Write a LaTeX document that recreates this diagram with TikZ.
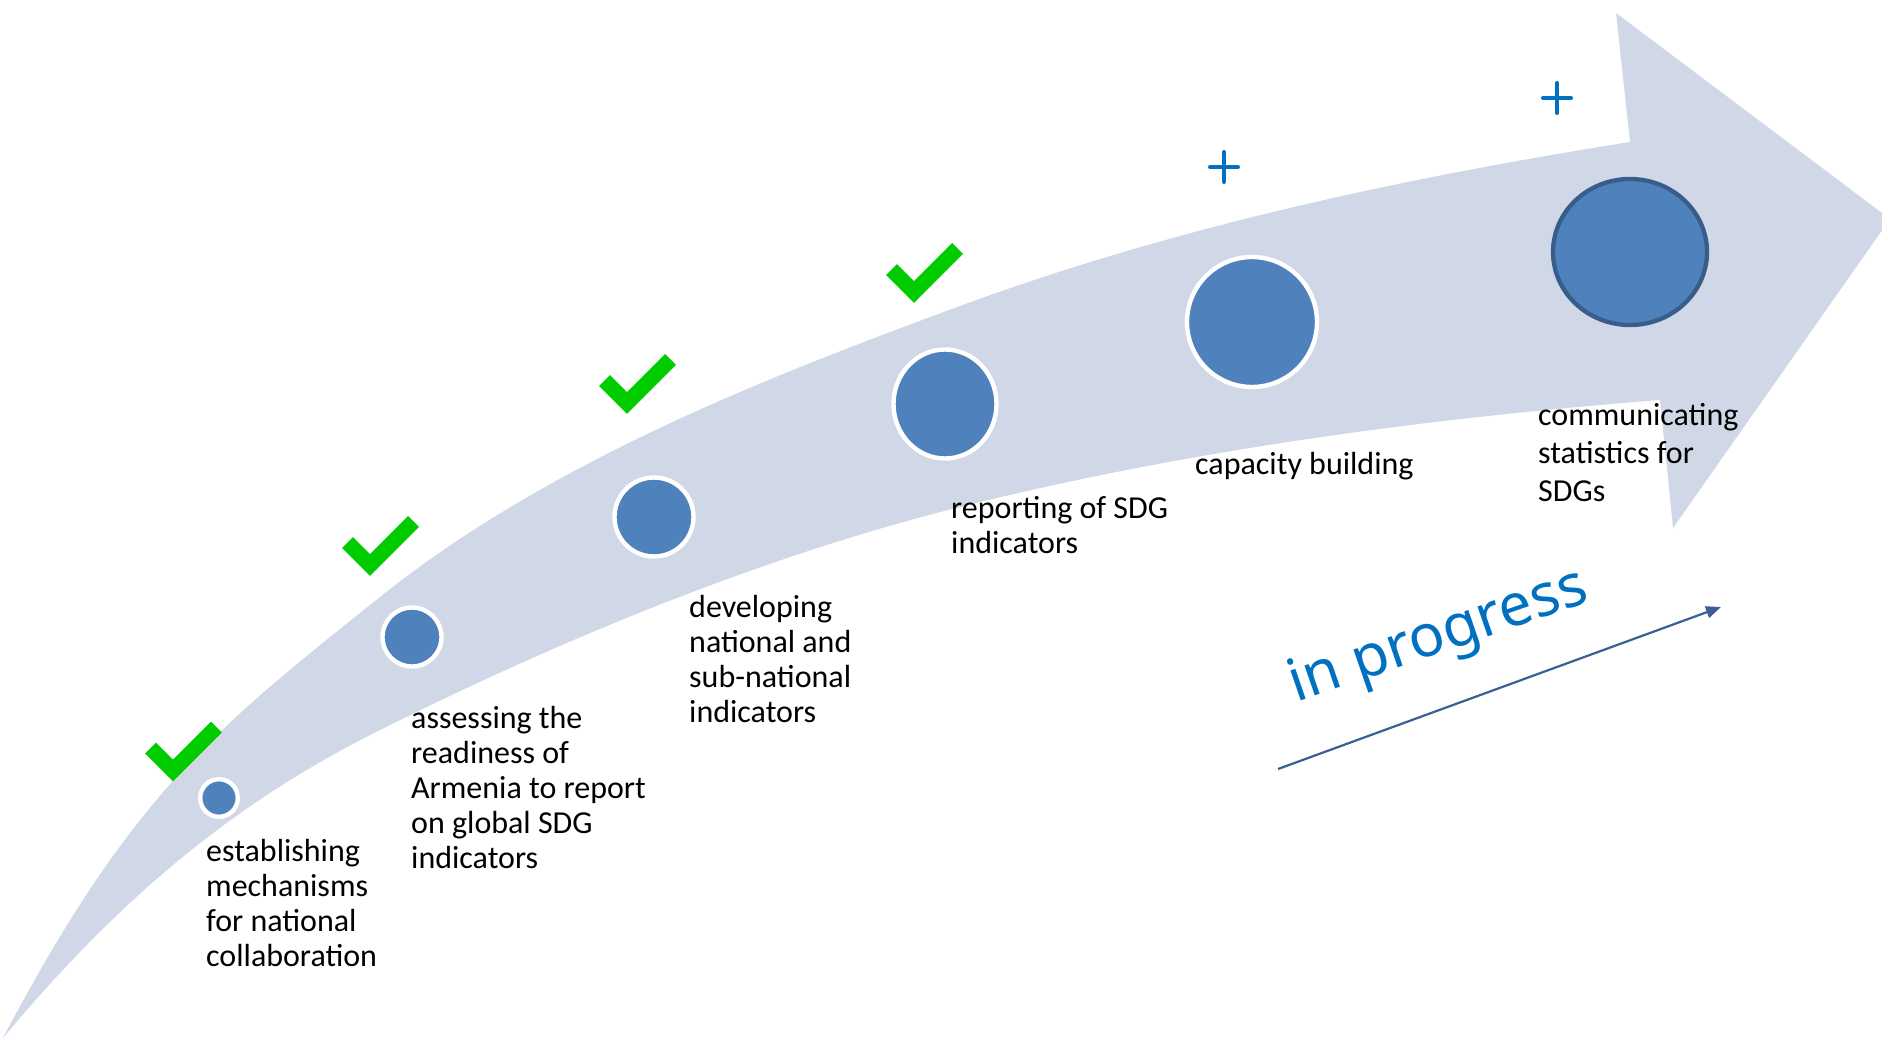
\documentclass[tikz,border=0pt]{standalone}
\usepackage{fontspec}
\setmainfont{Carlito}
\newfontfamily\progfont{Noto Sans}
\usetikzlibrary{shapes.geometric,arrows.meta}
\definecolor{band}{HTML}{D0D8E8}
\definecolor{dotfill}{HTML}{4F81BD}
\definecolor{dotedge}{HTML}{385D8A}
\definecolor{tickgreen}{HTML}{00CC00}
\definecolor{plusblue}{HTML}{0070C0}
\definecolor{arrowblue}{HTML}{3A5F95}
\begin{document}
\begin{tikzpicture}[x=1pt,y=-1pt,
  stepdot/.style={ellipse, fill=dotfill, draw=white, line width=4.4pt, inner sep=0pt},
  steptext/.style={anchor=base west, align=left, inner sep=0pt, font=\fontsize{32}{35.2}\selectfont},
  checkmark/.style={draw=tickgreen, line width=15.5pt, line join=miter, line cap=butt},
  plussign/.style={draw=plusblue, line width=4pt, line cap=round},
  progarrow/.style={draw=arrowblue, line width=2.2pt, -{Triangle[length=15pt,width=12pt]}}
]
\useasboundingbox (0,0) rectangle (1882,1040);
\clip (0,0) rectangle (1882,1040);
% curved band arrow
\fill[band] (3,1038) .. controls (133,791) and (220,725) .. (380,597)
  .. controls (550,461) and (770,376) .. (960,306)
  .. controls (1180,225) and (1410,177) .. (1630,142)
  -- (1616,13) -- (1890,219) -- (1673,528) -- (1660,400)
  .. controls (1430,418) and (1190,449.5) .. (960,507)
  .. controls (770,554.5) and (570,635) .. (380,730)
  .. controls (250,795) and (133,882) .. (3,1038) -- cycle;
% milestones
\node[stepdot, minimum width=37.6pt, minimum height=37.6pt] (c1) at (219,798) {};
\node[stepdot, minimum width=59pt, minimum height=59pt] (c2) at (412,637) {};
\node[stepdot, minimum width=79pt, minimum height=79pt] (c3) at (654,517) {};
\node[stepdot, minimum width=103pt, minimum height=109pt] (c4) at (945,404) {};
\node[stepdot, minimum width=130pt, minimum height=130pt] (c5) at (1252,322) {};
\node[stepdot, draw=dotedge, line width=4.3pt, minimum width=154pt, minimum height=146pt] (c6) at (1630,252) {};
% check marks
\draw[checkmark] (173,770.5) ++(-22.5,-22.5) -- ++(22.5,22.5) -- ++(43.5,-43.5);
\draw[checkmark] (370,565) ++(-22.5,-22.5) -- ++(22.5,22.5) -- ++(43.5,-43.5);
\draw[checkmark] (627,403) ++(-22.5,-22.5) -- ++(22.5,22.5) -- ++(43.5,-43.5);
\draw[checkmark] (914,292) ++(-22.5,-22.5) -- ++(22.5,22.5) -- ++(43.5,-43.5);
% plus signs
\draw[plussign] (1224,167) ++(-14,0) -- ++(28,0) (1224,167) ++(0,-15) -- ++(0,30);
\draw[plussign] (1557,98) ++(-14,0) -- ++(28,0) (1557,98) ++(0,-15) -- ++(0,30);
% labels (anchored at the baseline of their last line)
\node[steptext] (t1) at (206,966.6) {establishing\\mechanisms\\for national\\collaboration};
\node[steptext] (t2) at (411,868.8) {assessing the\\readiness of\\Armenia to report\\on global SDG\\indicators};
\node[steptext] (t3) at (689,722.6) {developing\\national and\\sub-national\\indicators};
\node[steptext] (t4) at (951,553.2) {reporting of SDG\\indicators};
\node[steptext] (t5) at (1195,474) {capacity building};
\node[steptext, font=\fontsize{32}{38.4}\selectfont] (t6) at (1538,501.8) {communicating\\statistics for\\SDGs};
% in progress
\node[rotate=19, anchor=base west, inner sep=0pt, text=plusblue, font=\progfont\fontsize{59}{59}\selectfont] (prog) at (1296,703) {in progress};
\coordinate (pa) at (1278,769);
\coordinate (pb) at (1721,607);
\draw[progarrow] (pa) -- (pb);
\end{tikzpicture}
\end{document}
